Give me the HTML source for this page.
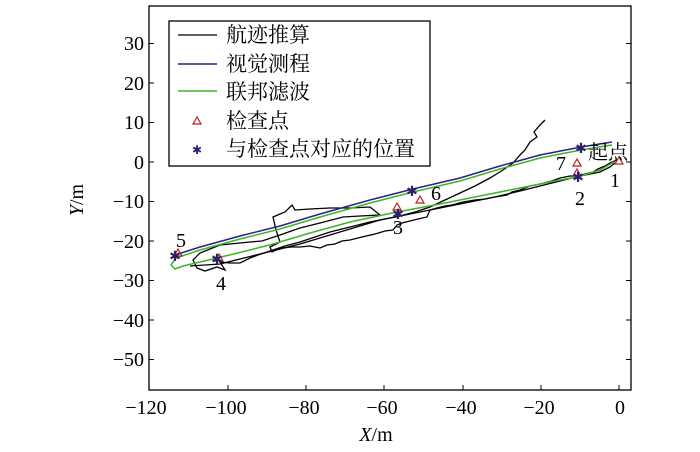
<!DOCTYPE html>
<html><head><meta charset="utf-8"><style>
body{margin:0;background:#fff;}
svg text{font-family:"Liberation Serif","Noto Serif CJK SC",serif;}
</style></head><body>
<svg width="700" height="447" viewBox="0 0 700 447" xmlns="http://www.w3.org/2000/svg">
<rect x="0" y="0" width="700" height="447" fill="#fff"/>
<rect x="149" y="6" width="482" height="384" fill="none" stroke="#000" stroke-width="1.3"/>
<g stroke="#000" stroke-width="1">
<line x1="149" y1="43.5" x2="154" y2="43.5"/><line x1="631" y1="43.5" x2="626" y2="43.5"/>
<line x1="149" y1="83" x2="154" y2="83"/><line x1="631" y1="83" x2="626" y2="83"/>
<line x1="149" y1="122.5" x2="154" y2="122.5"/><line x1="631" y1="122.5" x2="626" y2="122.5"/>
<line x1="149" y1="162" x2="154" y2="162"/><line x1="631" y1="162" x2="626" y2="162"/>
<line x1="149" y1="201.5" x2="154" y2="201.5"/><line x1="631" y1="201.5" x2="626" y2="201.5"/>
<line x1="149" y1="241" x2="154" y2="241"/><line x1="631" y1="241" x2="626" y2="241"/>
<line x1="149" y1="280.5" x2="154" y2="280.5"/><line x1="631" y1="280.5" x2="626" y2="280.5"/>
<line x1="149" y1="320" x2="154" y2="320"/><line x1="631" y1="320" x2="626" y2="320"/>
<line x1="149" y1="359.5" x2="154" y2="359.5"/><line x1="631" y1="359.5" x2="626" y2="359.5"/>
<line x1="228" y1="390" x2="228" y2="385"/><line x1="306" y1="390" x2="306" y2="385"/>
<line x1="384" y1="390" x2="384" y2="385"/><line x1="463" y1="390" x2="463" y2="385"/>
<line x1="541" y1="390" x2="541" y2="385"/><line x1="619" y1="390" x2="619" y2="385"/>
</g>
<g font-size="20" fill="#000" text-anchor="end">
<text x="144" y="50">30</text><text x="144" y="90">20</text><text x="144" y="129">10</text>
<text x="144" y="169">0</text><text x="144" y="208">−10</text><text x="144" y="248">−20</text>
<text x="144" y="287">−30</text><text x="144" y="327">−40</text><text x="144" y="366">−50</text>
</g>
<g font-size="20" fill="#000" text-anchor="middle">
<text x="146" y="414">−120</text><text x="226" y="414">−100</text><text x="304" y="414">−80</text>
<text x="382" y="414">−60</text><text x="461" y="414">−40</text><text x="539" y="414">−20</text>
<text x="620" y="414">0</text>
<text x="376" y="441"><tspan font-style="italic">X</tspan>/m</text>
</g>
<text font-size="20" text-anchor="middle" transform="translate(83,200) rotate(-90)"><tspan font-style="italic">Y</tspan>/m</text>

<polyline fill="none" stroke="#000" stroke-width="1.3" points="617,160 610,163 605,166 598,169 593,172 585,174 577,176 570,176 560,178 552,181 540,184 530,186 520,190 512,192 507,195 495,197 485,199 475,200 463,202 452,205 445,206 437,208 430,210 427,217 418,219 410,221 402,223 397,225 393,230 385,231 375,234 362,237 350,240 342,241 335,244 327,245 320,248 310,246 300,247 291,247 283,248 276,250 272,252 270,247 280,242 276,230 273,217 280,214 285,212 292,205 295,210 310,209 330,208 350,208 370,207 380,215 360,216 343,217 320,223 300,228 280,235 262,241 250,242 240,243 230,244 220,245 210,249 200,253 193,260 197,268 205,271 217,267 225,270 220,262 230,263 240,263 250,258 258,255 273,250 285,246 300,242 315,237 330,232 350,227 370,222 385,219 400,216 415,212 430,207 445,200 460,193 475,186 490,178 503,170 513,163 520,155 525,150 530,142 537,137 534,132 540,125 545,120"/>
<polyline fill="none" stroke="#000" stroke-width="1.3" points="190,266 205,265 220,264 240,259 260,254 280,249 300,244 320,238 340,232 360,226 380,220 400,216 420,212 445,207 470,202 495,197 520,191 540,186 560,181 580,176 600,172 610,167 615,163"/>
<polyline fill="none" stroke="#2e1f8a" stroke-width="1.5" points="612,142 581,147 540,155 500,166 460,178 413,189 370,200 320,214 280,226 240,236 200,247 175,255"/>
<polyline fill="none" stroke="#3cb526" stroke-width="1.5" points="612,145 581,150 540,158 500,169 460,181 413,192 370,203 320,217 280,229 240,239 200,250 176,258 171,265 175,269 183,266 200,262 217,258 250,250 273,244 310,233 350,222 397,212 440,204 480,196 520,188 560,180 577,177 600,170 614,162"/>
<g fill="none" stroke="#b52020" stroke-width="1.2">
<polygon points="619,157 615,164 623,164"/>
<polygon points="577,159 573,166 581,166"/>
<polygon points="577,169 573,176 581,176"/>
<polygon points="420,196 416,203 424,203"/>
<polygon points="397,203 393,210 401,210"/>
<polygon points="178,249 174,256 182,256"/>
<polygon points="219,254 215,261 223,261"/>
</g>
<g fill="#2e1f6a" font-size="14" text-anchor="middle" font-family="Liberation Sans,sans-serif">
<text x="581" y="153">✱</text><text x="412" y="196">✱</text><text x="398" y="219">✱</text>
<text x="578" y="182">✱</text><text x="175" y="261">✱</text><text x="217" y="264">✱</text>
</g>
<g font-size="20" fill="#000" text-anchor="middle">
<text x="608" y="159">起点</text><text x="615" y="187">1</text><text x="580" y="205">2</text>
<text x="561" y="170">7</text><text x="436" y="200">6</text><text x="398" y="234">3</text>
<text x="181" y="247">5</text><text x="221" y="290">4</text>
</g>
<rect x="169" y="21" width="261" height="145" fill="#fff" stroke="#000" stroke-width="1.3"/>
<line x1="178" y1="35" x2="217" y2="35" stroke="#000" stroke-width="1.3"/>
<line x1="178" y1="64" x2="217" y2="64" stroke="#2e1f8a" stroke-width="1.5"/>
<line x1="178" y1="91" x2="217" y2="91" stroke="#3cb526" stroke-width="1.5"/>
<polygon points="197,117 193,124 201,124" fill="none" stroke="#b52020" stroke-width="1.2"/>
<text x="197" y="154" font-size="12" fill="#2e1f6a" text-anchor="middle" font-family="Liberation Sans,sans-serif">✱</text>
<g font-size="21" fill="#000">
<text x="226" y="42">航迹推算</text><text x="226" y="71">视觉测程</text><text x="226" y="99">联邦滤波</text>
<text x="226" y="128">检查点</text><text x="226" y="156">与检查点对应的位置</text>
</g>
</svg>
</body></html>
